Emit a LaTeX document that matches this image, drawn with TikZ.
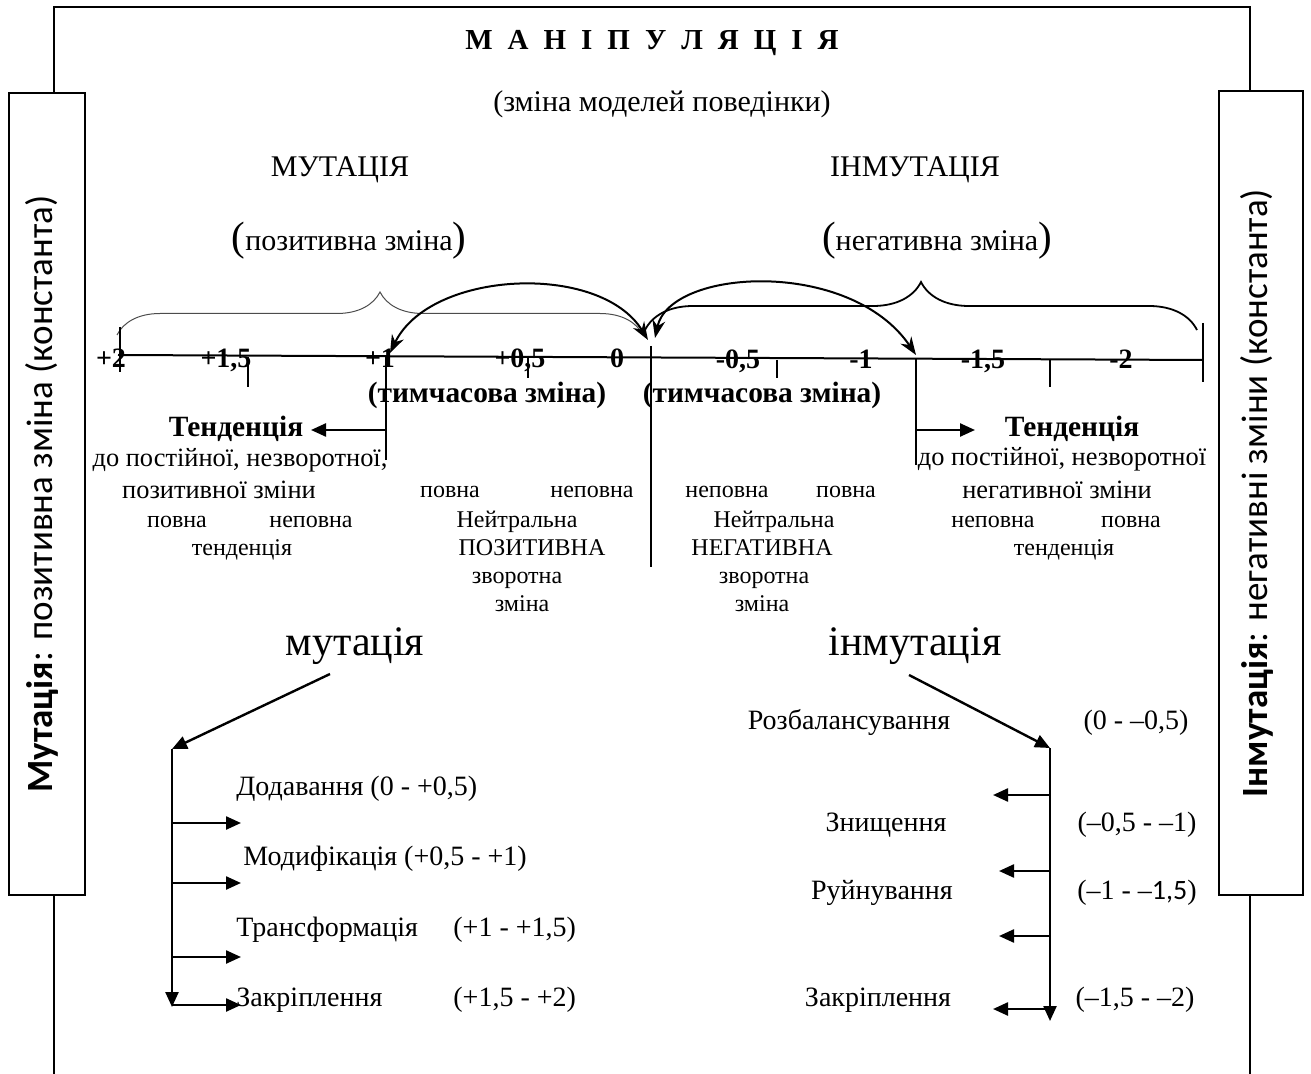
\documentclass[tikz,border=0pt]{standalone}
\usepackage{fontspec}
\setmainfont{Liberation Serif}
\newfontfamily\sidefont{Carlito}
\usetikzlibrary{arrows.meta,decorations.pathreplacing}
\begin{document}
\begin{tikzpicture}[x=0.5pt,y=-0.5pt,
  every node/.style={inner sep=0pt, text height=0.6em, text depth=0.1em},
  ln/.style={line width=1pt},
  tk/.style={line width=0.8pt},
  tri/.style={line width=1.2pt,-{Triangle[length=7.5pt,width=6.5pt]}},
  cur/.style={line width=1pt,{Stealth[length=9pt,width=6.5pt]}-{Stealth[length=9pt,width=6.5pt]}},
  big/.style={font=\fontsize{15}{17}\selectfont},
  bnum/.style={font=\bfseries\fontsize{14}{16}\selectfont},
  bold/.style={font=\bfseries\fontsize{14.7}{17}\selectfont},
  mid/.style={font=\fontsize{13.2}{15}\selectfont},
  sm/.style={font=\fontsize{12}{14}\selectfont},
  huge/.style={font=\fontsize{21}{24}\selectfont},
  lst/.style={font=\fontsize{14}{16}\selectfont},
  side/.style={font=\sidefont\fontsize{18.5}{20}\selectfont, rotate=90},
  sidebox/.style={draw, line width=1pt}
]
\useasboundingbox (0,0) rectangle (1311,1074);
\newcommand{\bp}[1]{{\fontsize{20.5}{22}\selectfont #1}}

% frame and side boxes
\node[sidebox, minimum width=38pt, minimum height=401pt, inner sep=0pt] (lbox) at (47,494) {};
\node[sidebox, minimum width=42pt, minimum height=402pt, inner sep=0pt] (rbox) at (1261,493) {};
\node[side] (ltext) at (47,494) {\textbf{Мутація}: позитивна зміна (константа)};
\node[side] (rtext) at (1262,493) {\textbf{Інмутація}: негативні зміни (константа)};
\coordinate (fTL) at (54,7);
\coordinate (fTR) at (1250,7);
\coordinate (fBL) at (54,1074);
\coordinate (fBR) at (1250,1074);
\draw[ln] (lbox.north -| fTL) -- (fTL) -- (fTR) -- (rbox.north -| fTR);
\draw[ln] (lbox.south -| fBL) -- (fBL);
\draw[ln] (rbox.south -| fBR) -- (fBR);

% headings
\node[font=\bfseries\fontsize{14.5}{17}\selectfont] (title) at (652,45)
  {М\hspace{7.5pt}А\hspace{7.5pt}Н\hspace{7.5pt}І\hspace{7.5pt}П\hspace{7.5pt}У\hspace{7.5pt}Л\hspace{7.5pt}Я\hspace{7.5pt}Ц\hspace{7.5pt}І\hspace{7.5pt}Я};
\node[big] (sub) at (662,107) {(зміна моделей поведінки)};
\node[big] (mut) at (340,172) {МУТАЦІЯ};
\node[big] (inm) at (915,172) {ІНМУТАЦІЯ};
\node[big] (pos) at (349,246) {\bp{(}позитивна зміна\bp{)}};
\node[big] (neg) at (937,246) {\bp{(}негативна зміна\bp{)}};

% braces
\coordinate (bLa) at (117,335);
\coordinate (bLb) at (643,335);
\coordinate (bRa) at (645,330);
\coordinate (bRb) at (1197,330);
\draw[line width=0.5pt, black!70, decorate, decoration={brace, amplitude=21.5pt}] (bLa) -- (bLb);
\draw[line width=0.9pt, decorate, decoration={brace, amplitude=24pt}] (bRa) -- (bRb);

% axis
\coordinate (axL) at (118,355);
\coordinate (axR) at (1203,360);
\draw[ln] (axL) -- (axR);
\draw[tk] (120,327) -- (120,372);
\draw[tk] (248,357) -- (248,387);
\draw[tk] (528,356) -- (528,378);
\draw[tk] (777,360) -- (777,378);
\draw[tk] (1050,360) -- (1050,387);
\draw[tk] (1203,323) -- (1203,382);
\coordinate (p1top) at (386,356);
\coordinate (p1bot) at (386,460);
\coordinate (z0top) at (651,346);
\coordinate (z0bot) at (651,567);
\coordinate (m1top) at (916,358);
\coordinate (m1bot) at (916,465);
\draw[tk] (p1top) -- (p1bot);
\draw[tk] (z0top) -- (z0bot);
\draw[tk] (m1top) -- (m1bot);

\node[bnum] (n2) at (111,363) {+2};
\node[bnum] (n15) at (226,363) {+1,5};
\node[bnum] (n1) at (380,363) {+1};
\node[bnum] (n05) at (520,363) {+0,5};
\node[bnum] (n0) at (617,363) {0};
\node[bnum] (m05) at (738,364) {-0,5};
\node[bnum] (m1) at (861,364) {-1};
\node[bnum] (m15) at (983,364) {-1,5};
\node[bnum] (m2) at (1121,364) {-2};

% curved arrows
\coordinate (cA1) at (390,353);
\coordinate (cA0) at (648,340);
\coordinate (cB0) at (655,338);
\coordinate (cB1) at (916,355);
\draw[cur] (cA1) .. controls (430,270) and (600,262) .. (cA0);
\draw[cur] (cB0) .. controls (670,268) and (850,258) .. (cB1);

\node[bold] (tA) at (487,398) {(тимчасова зміна)};
\node[bold] (tB) at (762,398) {(тимчасова зміна)};

% tendencies
\node[bold] (tendL) at (236,432) {Тенденція};
\node[bold] (tendR) at (1072,432) {Тенденція};
\coordinate (aLs) at (386,430);
\coordinate (aLe) at (311,430);
\coordinate (aRs) at (916,430);
\coordinate (aRe) at (975,430);
\draw[tri] (aLs) -- (aLe);
\draw[tri] (aRs) -- (aRe);
\node[mid] (doL) at (240,462) {до постійної, незворотної,};
\node[mid] (doR) at (1062,461) {до постійної, незворотної};
\node[mid] (pozL) at (219,494) {позитивної зміни};
\node[mid] (negR) at (1057,494) {негативної зміни};

\node[sm] (l1) at (177,523) {повна};
\node[sm] (l2) at (311,523) {неповна};
\node[sm] (l3) at (242,550) {тенденція};

\node[sm] (c1) at (450,493) {повна};
\node[sm] (c2) at (592,493) {неповна};
\node[sm] (c3) at (517,523) {Нейтральна};
\node[sm] (c4) at (532,550) {ПОЗИТИВНА};
\node[sm] (c5) at (517,578) {зворотна};
\node[sm] (c6) at (522,606) {зміна};

\node[sm] (d1) at (727,493) {неповна};
\node[sm] (d2) at (846,493) {повна};
\node[sm] (d3) at (774,523) {Нейтральна};
\node[sm] (d4) at (762,550) {НЕГАТИВНА};
\node[sm] (d5) at (764,578) {зворотна};
\node[sm] (d6) at (762,606) {зміна};

\node[sm] (r1) at (993,523) {неповна};
\node[sm] (r2) at (1131,523) {повна};
\node[sm] (r3) at (1064,550) {тенденція};

% lower part
\node[huge] (mutB) at (355,650) {мутація};
\node[huge] (inmB) at (915,650) {інмутація};

\coordinate (mS) at (330,674);
\coordinate (mC) at (172,749);
\coordinate (mE) at (172,1007);
\draw[tri] (mS) -- (mC);
\draw[tri] (mC) -- (mE);
\foreach \yy/\nm in {823/ma, 883/mb, 957/mc, 1005/md}{
  \coordinate (\nm s) at (172,\yy);
  \coordinate (\nm e) at (241,\yy);
  \draw[tri] (\nm s) -- (\nm e);
}
\node[lst, anchor=west] (add) at (236,790) {Додавання (0 - +0,5)};
\node[lst, anchor=west] (mod) at (243,860) {Модифікація (+0,5 - +1)};
\node[lst, anchor=west] (tra) at (236,931) {Трансформація};
\node[lst, anchor=west] (traR) at (453,931) {(+1 - +1,5)};
\node[lst, anchor=west] (zak) at (236,1001) {Закріплення};
\node[lst, anchor=west] (zakR) at (453,1001) {(+1,5 - +2)};

\coordinate (iS) at (909,675);
\coordinate (iC) at (1050,748);
\coordinate (iE) at (1050,1021);
\draw[tri] (iS) -- (iC);
\draw[tri] (iC) -- (iE);
\foreach \yy/\xx/\nm in {795/993/ia, 871/999/ib, 936/999/ic, 1009/993/id}{
  \coordinate (\nm s) at (1050,\yy);
  \coordinate (\nm e) at (\xx,\yy);
  \draw[tri] (\nm s) -- (\nm e);
}
\node[lst] (roz) at (849,724) {Розбалансування};
\node[lst] (rozR) at (1136,724) {(0 - –0,5)};
\node[lst] (zn) at (886,826) {Знищення};
\node[lst] (znR) at (1137,826) {(–0,5 - –1)};
\node[lst] (ru) at (882,894) {Руйнування};
\node[lst] (ruR) at (1137,894) {(–1 - –{\sidefont 1,5})};
\node[lst] (zk) at (878,1001) {Закріплення};
\node[lst] (zkR) at (1135,1001) {(–1,5 - –2)};
\end{tikzpicture}
\end{document}
